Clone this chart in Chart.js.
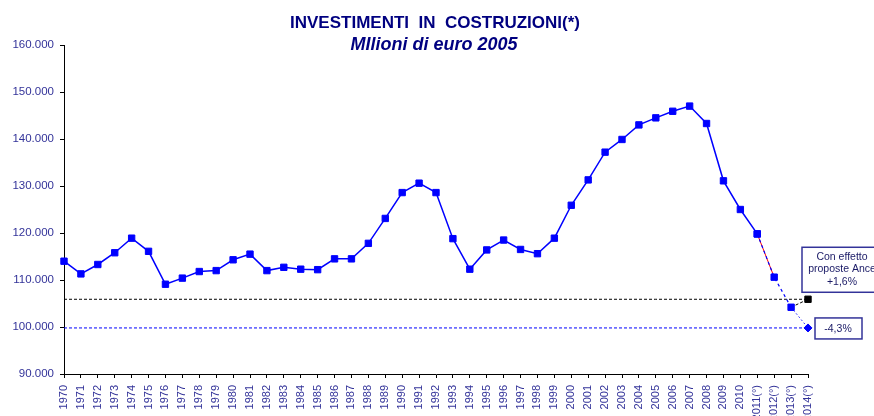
<!DOCTYPE html>
<html>
<head>
<meta charset="utf-8">
<script src="https://cdn.jsdelivr.net/npm/chart.js@4/dist/chart.umd.min.js"></script>
<style>
    html, body { margin: 0; padding: 0; background: #FFFFFF; overflow: hidden; }
    #wrap { position: relative; width: 874px; height: 430px; }
</style>
</head>
<body>
<div id="wrap"><canvas id="investChart"></canvas></div>
<script>
// ==========================================
// Investimenti in costruzioni - data
// ==========================================

const years = [
    "1970", "1971", "1972", "1973", "1974", "1975", "1976", "1977", "1978", "1979",
    "1980", "1981", "1982", "1983", "1984", "1985", "1986", "1987", "1988", "1989",
    "1990", "1991", "1992", "1993", "1994", "1995", "1996", "1997", "1998", "1999",
    "2000", "2001", "2002", "2003", "2004", "2005", "2006", "2007", "2008", "2009",
    "2010", "2011(°)", "2012(°)", "2013(°)", "2014(°)"
];

// 1970 - 2011
const historical = [
    114000, 111300, 113300, 115800, 118900, 116100, 109100, 110400, 111800, 112000,
    114300, 115500, 112000, 112700, 112300, 112200, 114500, 114500, 117800, 123100,
    128600, 130600, 128600, 118800, 112300, 116400, 118500, 116500, 115600, 118900,
    125900, 131300, 137200, 139900, 143000, 144500, 145900, 147000, 143300, 131100,
    125000, 119800
];

// 2012 - 2013
const forecast = [110600, 104200];

// 2014 scenarios
const scenarioBase = 99800;   // -4,3%
const scenarioAnce = 105900;  // +1,6% con effetto proposte Ance

const yTicks = [90000, 100000, 110000, 120000, 130000, 140000, 150000, 160000];

// ==========================================
// helpers
// ==========================================

const n = years.length;

function place(start, values) {
    const out = new Array(n).fill(null);
    values.forEach((v, i) => { out[start + i] = v; });
    return out;
}

const lastHist = historical[historical.length - 1];
const lastFc = forecast[forecast.length - 1];
const iHistEnd = historical.length - 1;
const iFcEnd = iHistEnd + forecast.length;

const navy = "#333399";

// only the 2014 point gets a marker
const endOnly = r => c => (c.dataIndex === n - 1 ? r : 0);

// ==========================================
// plugins: title + boxes
// ==========================================

const titlePlugin = {
    id: "titles",
    afterDraw(chart) {
        const ctx = chart.ctx;
        ctx.save();
        ctx.fillStyle = "#000080";
        ctx.textAlign = "center";
        ctx.textBaseline = "alphabetic";
        ctx.font = "bold 17px 'Liberation Sans', Arial, sans-serif";
        ctx.fillText("INVESTIMENTI  IN  COSTRUZIONI(*)", 435, 28);
        ctx.font = "italic bold 18px 'Liberation Sans', Arial, sans-serif";
        ctx.fillText("MIlioni di euro 2005", 434, 50);
        ctx.restore();
    }
};

const boxPlugin = {
    id: "boxes",
    afterDraw(chart) {
        const ctx = chart.ctx;
        const x = chart.scales.x;
        const y = chart.scales.y;
        const xEnd = x.getPixelForValue(n - 1);

        ctx.save();
        ctx.strokeStyle = navy;
        ctx.lineWidth = 1.5;
        ctx.fillStyle = "#FFFFFF";
        ctx.font = "10.5px 'Liberation Sans', Arial, sans-serif";
        ctx.textAlign = "center";
        ctx.textBaseline = "middle";

        // Ance box
        const yA = y.getPixelForValue(scenarioAnce);
        ctx.fillRect(xEnd - 6, yA - 52, 80, 45);
        ctx.strokeRect(xEnd - 6, yA - 52, 80, 45);
        ctx.fillStyle = "#1a1a66";
        ctx.fillText("Con effetto", xEnd + 34, yA - 42);
        ctx.fillText("proposte Ance", xEnd + 34, yA - 30);
        ctx.fillText("+1,6%", xEnd + 34, yA - 17);

        // base box
        const yB = y.getPixelForValue(scenarioBase);
        ctx.fillStyle = "#FFFFFF";
        ctx.fillRect(xEnd + 7, yB - 10, 47, 21);
        ctx.strokeRect(xEnd + 7, yB - 10, 47, 21);
        ctx.fillStyle = "#1a1a66";
        ctx.fillText("-4,3%", xEnd + 30, yB + 1);
        ctx.restore();
    }
};

// ==========================================
// chart
// ==========================================

const investChart = new Chart(
    document.getElementById("investChart"),
    {
        type: "line",

        data: {

            labels: years,

            datasets: [
                {
                    label: "Investimenti",
                    data: place(0, historical),
                    borderColor: "#0000FF",
                    backgroundColor: "#0000FF",
                    borderWidth: 1.5,
                    pointStyle: "rect",
                    pointRadius: 4.5,
                    pointBorderWidth: 1,
                    tension: 0,
                    clip: false,
                    order: 0
                },
                {
                    label: "2011-2012",
                    data: place(iHistEnd, [lastHist, forecast[0]]),
                    borderColor: "#FF0000",
                    borderWidth: 1,
                    pointRadius: 0,
                    order: 3
                },
                {
                    label: "Previsioni",
                    data: place(iHistEnd, [lastHist].concat(forecast)),
                    borderColor: "#0000FF",
                    backgroundColor: "#0000FF",
                    borderWidth: 1.2,
                    borderDash: [3, 3],
                    pointStyle: "rect",
                    pointRadius: 4.5,
                    pointBorderWidth: 1,
                    order: 1
                },
                {
                    label: "-4,3%",
                    data: place(iFcEnd, [lastFc, scenarioBase]),
                    borderColor: "#0000FF",
                    backgroundColor: "#0000FF",
                    borderWidth: 1,
                    borderDash: [1.5, 2.5],
                    pointStyle: "rectRot",
                    pointRadius: endOnly(4),
                    pointBorderWidth: 1,
                    clip: false,
                    order: 2
                },
                {
                    label: "+1,6%",
                    data: place(iFcEnd, [lastFc, scenarioAnce]),
                    borderColor: "#000000",
                    backgroundColor: "#000000",
                    borderWidth: 1,
                    borderDash: [3, 2],
                    pointStyle: "rect",
                    pointRadius: endOnly(4.5),
                    pointBorderWidth: 1,
                    clip: false,
                    order: 2
                },
                {
                    label: "livello Ance",
                    data: years.map(() => scenarioAnce),
                    borderColor: "#000000",
                    borderWidth: 1,
                    borderDash: [3, 2],
                    pointRadius: 0,
                    order: 5
                },
                {
                    label: "livello base",
                    data: years.map(() => scenarioBase),
                    borderColor: "#0000FF",
                    borderWidth: 1,
                    borderDash: [3, 2],
                    pointRadius: 0,
                    order: 5
                }
            ]
        },

        options: {
            responsive: true,
            maintainAspectRatio: false,
            animation: false,

            layout: {
                padding: { top: 45, right: 66, left: 0, bottom: 0 }
            },

            plugins: {
                legend: { display: false },
                tooltip: { enabled: false }
            },

            scales: {

                x: {
                    afterFit(scale) { scale.height = 56; },
                    ticks: {
                        color: navy,
                        autoSkip: false,
                        maxRotation: 90,
                        minRotation: 90,
                        padding: 7,
                        font: { family: "'Liberation Sans', Arial, sans-serif", size: 11 }
                    },
                    grid: {
                        drawOnChartArea: false,
                        color: "#000000",
                        tickLength: 4
                    },
                    border: { color: "#000000", width: 1 }
                },

                y: {
                    min: yTicks[0],
                    max: yTicks[yTicks.length - 1],
                    afterFit(scale) { scale.width = 64; },
                    afterBuildTicks(scale) {
                        scale.ticks = yTicks.map(v => ({ value: v }));
                    },
                    ticks: {
                        color: navy,
                        padding: 6,
                        font: { family: "'Liberation Sans', Arial, sans-serif", size: 11.5 },
                        callback: v => (v / 1000) + ".000"
                    },
                    grid: {
                        drawOnChartArea: false,
                        color: "#000000",
                        tickLength: 4
                    },
                    border: { color: "#000000", width: 1 }
                }

            }
        },

        plugins: [titlePlugin, boxPlugin]
    }
);
</script>
</body>
</html>
